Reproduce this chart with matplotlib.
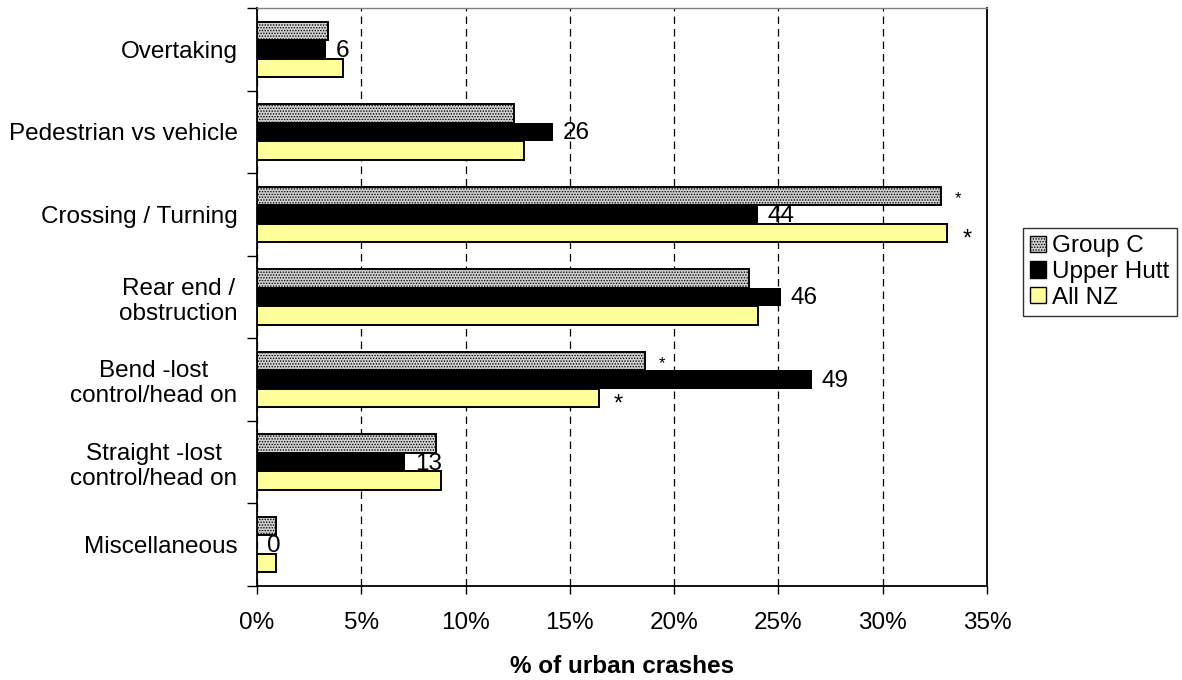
import numpy as np
import matplotlib.pyplot as plt
from matplotlib.patches import Patch

plt.rcParams['font.family'] = ['Liberation Sans', 'DejaVu Sans']
plt.rcParams['hatch.linewidth'] = 0.7

# data (top to bottom)
categories = ['Overtaking', 'Pedestrian vs vehicle', 'Crossing / Turning',
              'Rear end /\nobstruction', 'Bend -lost\ncontrol/head on',
              'Straight -lost\ncontrol/head on', 'Miscellaneous']
group_c = [3.4, 12.3, 32.8, 23.6, 18.6, 8.6, 0.9]
upper_hutt = [3.3, 14.2, 24.0, 25.1, 26.6, 7.1, 0.0]
all_nz = [4.1, 12.8, 33.1, 24.0, 16.4, 8.8, 0.9]
upper_hutt_counts = ['6', '26', '44', '46', '49', '13', '0']
sig_group_c = [False, False, True, False, True, False, False]
sig_all_nz = [False, False, True, False, True, False, False]
x_ticks = [0, 5, 10, 15, 20, 25, 30, 35]

fig = plt.figure(figsize=(11.82, 6.8), dpi=100)
ax = fig.add_axes([257 / 1182, 1 - 586 / 680, 730 / 1182, 578 / 680])

y = np.arange(len(categories))
h = 0.224

ax.barh(y - h, group_c, height=h, facecolor='#d2d2d2', edgecolor='black',
        hatch='......', linewidth=1.4, zorder=3)
ax.barh(y, upper_hutt, height=h, color='black', linewidth=0, zorder=3)
ax.barh(y + h, all_nz, height=h, facecolor='#ffff99', edgecolor='black',
        linewidth=1.4, zorder=3)

# counts next to Upper Hutt bars
for yi, v, lab in zip(y, upper_hutt, upper_hutt_counts):
    ax.annotate(lab, (v, yi), xytext=(7, -1), textcoords='offset points',
                ha='left', va='center', fontsize=17.5, zorder=4)

# significance markers
for yi, v, s in zip(y, group_c, sig_group_c):
    if s:
        ax.annotate('*', (v, yi - h), xytext=(12, -2), textcoords='offset points',
                    ha='center', va='center', fontsize=12)
for yi, v, s in zip(y, all_nz, sig_all_nz):
    if s:
        ax.annotate('*', (v, yi + h), xytext=(14, -5), textcoords='offset points',
                    ha='center', va='center', fontsize=17)

ax.set_xlim(0, 35)
ax.set_ylim(len(categories) - 0.5, -0.5)
ax.set_xticks(x_ticks)
ax.set_xticklabels([f'{t}%' for t in x_ticks])
ax.set_yticks(y)
ax.set_yticklabels(categories)
for lab in ax.get_yticklabels():
    lab.set_multialignment('center')
ax.set_yticks(np.arange(len(categories) + 1) - 0.5, minor=True)
ax.tick_params(axis='y', which='major', length=0, pad=14, labelsize=17.5)
ax.tick_params(axis='y', which='minor', length=7, width=1, direction='out')
ax.tick_params(axis='x', length=6, width=1, direction='out', pad=13, labelsize=17.5)

ax.grid(axis='x', color='black', linestyle=(0, (6, 4)), linewidth=0.9, zorder=0)
ax.set_xlabel('% of urban crashes', fontsize=17.5, fontweight='bold', labelpad=15)

ax.spines['left'].set_linewidth(1.3)
ax.spines['bottom'].set_linewidth(1.3)
ax.spines['right'].set_linewidth(1.3)
ax.spines['top'].set_color('#808080')
ax.spines['top'].set_linewidth(1.0)

handles = [Patch(facecolor='#d2d2d2', edgecolor='black', hatch='......', linewidth=1.0),
           Patch(facecolor='black', edgecolor='black'),
           Patch(facecolor='#ffff99', edgecolor='black', linewidth=1.0)]
leg = fig.legend(handles, ['Group C', 'Upper Hutt', 'All NZ'],
                 loc='upper left', bbox_to_anchor=(1023 / 1182, 1 - 228 / 680),
                 fontsize=17.5, frameon=True, fancybox=False, borderpad=0.3,
                 labelspacing=0.15, handlelength=0.65, handleheight=0.65,
                 handletextpad=0.25, borderaxespad=0)
leg.get_frame().set_edgecolor('black')
leg.get_frame().set_linewidth(1.0)

fig.savefig('out.png', dpi=100)
